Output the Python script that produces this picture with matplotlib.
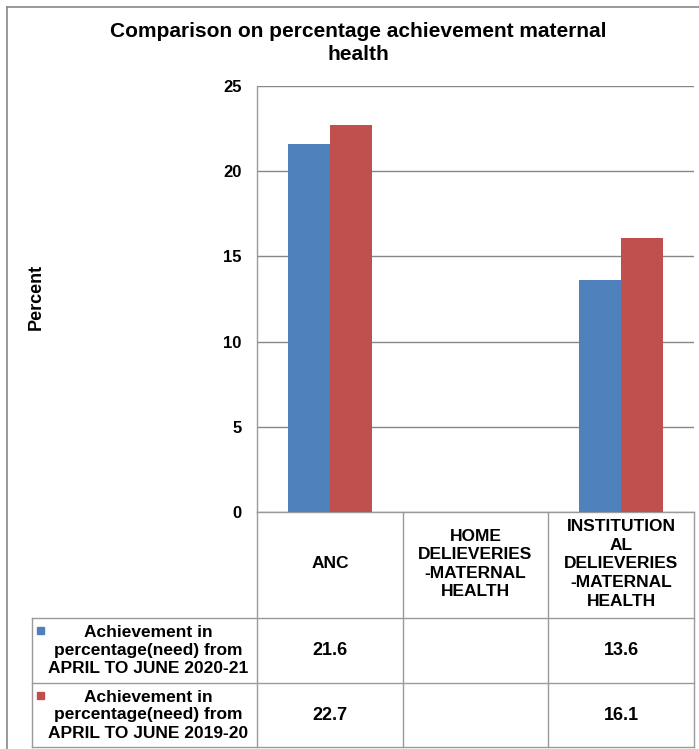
import numpy as np
import matplotlib.pyplot as plt
from matplotlib.lines import Line2D
from matplotlib.patches import Rectangle

# chart data
categories = ["ANC", "HOME\nDELIEVERIES\n-MATERNAL\nHEALTH",
              "INSTITUTION\nAL\nDELIEVERIES\n-MATERNAL\nHEALTH"]
series_names = ["Achievement in\npercentage(need) from\nAPRIL TO JUNE 2020-21",
                "Achievement in\npercentage(need) from\nAPRIL TO JUNE 2019-20"]
values_2020 = [21.6, np.nan, 13.6]
values_2019 = [22.7, np.nan, 16.1]
colours = ["#4F81BD", "#C0504D"]
yticks = [0, 5, 10, 15, 20, 25]

plt.rcParams['font.family'] = ['Liberation Sans', 'DejaVu Sans']
plt.rcParams['font.weight'] = 'bold'

W, H = 699, 749
fig = plt.figure(figsize=(W / 100, H / 100), dpi=100)

# pixel layout of plot area
left, right, top, bottom = 257, 694, 86, 512
ax = fig.add_axes([left / W, 1 - bottom / H, (right - left) / W, (bottom - top) / H])

x = np.arange(len(categories))
bw = 0.29
ax.bar(x - bw / 2, values_2020, bw, color=colours[0], zorder=3)
ax.bar(x + bw / 2, values_2019, bw, color=colours[1], zorder=3)

ax.set_xlim(-0.5, len(categories) - 0.5)
ax.set_ylim(0, 25)
ax.set_yticks(yticks)
ax.set_yticklabels([str(t) for t in yticks], fontsize=12, fontweight='bold')
ax.tick_params(axis='y', length=0, pad=11)
ax.set_xticks([])
ax.grid(axis='y', color='#868686', linewidth=1, zorder=0)
for s in ['top', 'right']:
    ax.spines[s].set_visible(False)
for s in ['left', 'bottom']:
    ax.spines[s].set_color('#9a9a9a')
    ax.spines[s].set_linewidth(1)

# overlay in pixel coordinates for frame, title and data table
ov = fig.add_axes([0, 0, 1, 1], zorder=-1)
ov.set_xlim(0, W)
ov.set_ylim(H, 0)
ov.axis('off')

lc = '#9a9a9a'
ov.add_line(Line2D([7, W], [7, 7], color='#888888', lw=1.2))
ov.add_line(Line2D([7, 7], [7, H], color='#888888', lw=1.2))

ov.text(358, 43, "Comparison on percentage achievement maternal\nhealth",
        ha='center', va='center', fontsize=15, fontweight='bold', linespacing=1.3)
ov.text(36, 297, "Percent", rotation=90, ha='center', va='center',
        fontsize=13, fontweight='bold')

# table grid
col_edges = np.linspace(left, right, len(categories) + 1)
tbl_left = 32
row_edges = [bottom, 618, 683, 747]
for xe in col_edges:
    ov.add_line(Line2D([xe, xe], [bottom, row_edges[-1]], color=lc, lw=1))
for ye in row_edges[1:]:
    ov.add_line(Line2D([tbl_left, right], [ye, ye], color=lc, lw=1))
ov.add_line(Line2D([tbl_left, tbl_left], [row_edges[1], row_edges[-1]], color=lc, lw=1))

centers = (col_edges[:-1] + col_edges[1:]) / 2
for cx, cat in zip(centers, categories):
    ov.text(cx, (row_edges[0] + row_edges[1]) / 2 - 1, cat, ha='center', va='center',
            fontsize=12.5, fontweight='bold', linespacing=1.3)

for i, (name, vals) in enumerate(zip(series_names, [values_2020, values_2019])):
    ymid = (row_edges[i + 1] + row_edges[i + 2]) / 2
    ov.add_patch(Rectangle((37, row_edges[i + 1] + 9), 7, 7, color=colours[i]))
    ov.text((tbl_left + left) / 2 + 4, ymid, name, ha='center', va='center',
            fontsize=12.5, fontweight='bold', linespacing=1.25)
    for cx, v in zip(centers, vals):
        if not np.isnan(v):
            ov.text(cx, ymid, f"{v:.1f}", ha='center', va='center',
                    fontsize=13, fontweight='bold')

fig.savefig('out.png', dpi=100)
